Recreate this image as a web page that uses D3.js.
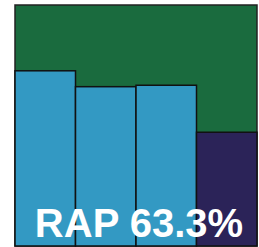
<!DOCTYPE html>
<html>
<head>
<meta charset="utf-8">
<script src="https://cdn.jsdelivr.net/npm/d3@7"></script>
<style>
  body { margin: 0; background: #ffffff; }
  svg { display: block; }
</style>
</head>
<body>
<div id="chart"></div>
<script>
const categories = ["1", "2", "3", "4"];
const values = [72.7, 66.1, 66.7, 47.2];
const barColors = ["#3399c3", "#3399c3", "#3399c3", "#2b2358"];
const label = "RAP 63.3%";

const WIDTH = 259;
const HEIGHT = 247;
const box = { left: 15, top: 5, width: 242, height: 241 };

const svg = d3.select("#chart")
  .append("svg")
  .attr("width", WIDTH)
  .attr("height", HEIGHT);

let x = d3.scaleBand()
  .domain(categories)
  .range([box.left, box.left + box.width])
  .padding(0);

let y = d3.scaleLinear()
  .domain([0, 100])
  .range([box.top + box.height, box.top]);

// background panel
svg.append("rect")
  .attr("x", box.left)
  .attr("y", box.top)
  .attr("width", box.width)
  .attr("height", box.height)
  .attr("fill", "#1a6b3e")
  .attr("stroke", "#222")
  .attr("stroke-width", 1.5);

svg.selectAll("rect.bar")
  .data(values)
  .enter()
  .append("rect")
  .attr("class", "bar")
  .attr("x", (d, i) => x(categories[i]))
  .attr("y", d => y(d))
  .attr("width", x.bandwidth())
  .attr("height", d => y(0) - y(d))
  .attr("fill", (d, i) => barColors[i])
  .attr("stroke", "#111")
  .attr("stroke-width", 1.5);

svg.append("text")
  .attr("x", 139)
  .attr("y", 237)
  .attr("text-anchor", "middle")
  .style("font-family", "'Liberation Sans', Arial, sans-serif")
  .style("font-weight", "bold")
  .style("font-size", "40px")
  .attr("fill", "#ffffff")
  .text(label);
</script>
</body>
</html>
